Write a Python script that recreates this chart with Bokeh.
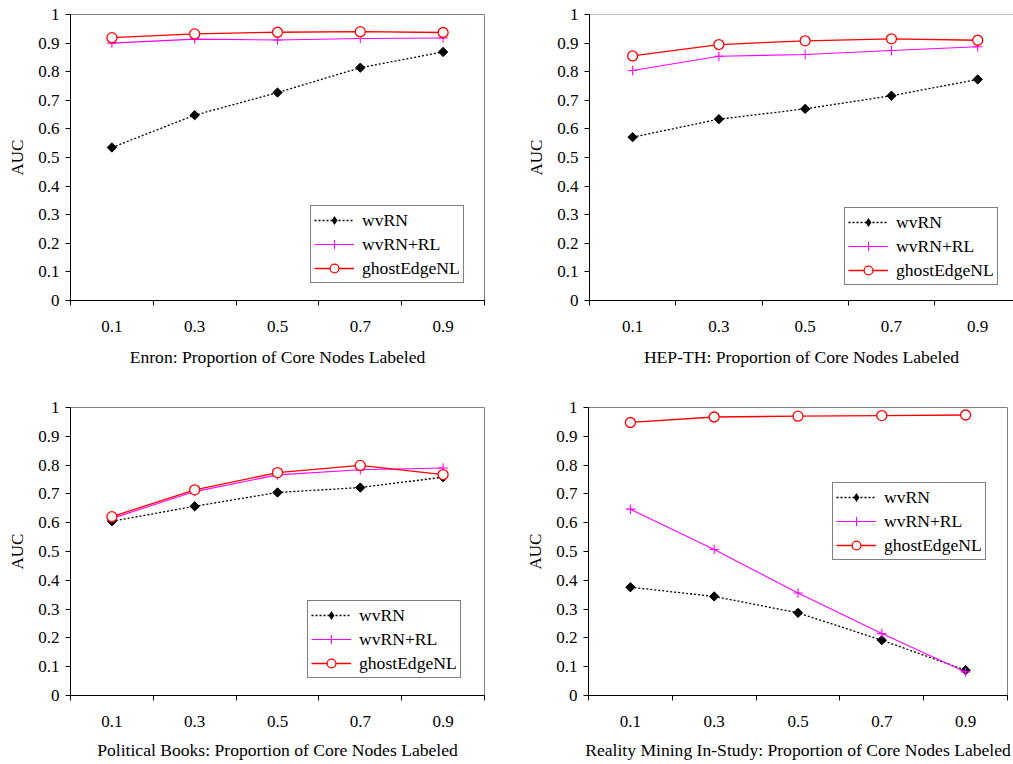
import math
from bokeh.plotting import figure
from bokeh.models import FixedTicker, Legend, LegendItem, Range1d, Span
from bokeh.layouts import column, row
from bokeh.embed import file_html
from bokeh.resources import INLINE

# ---------------- data ----------------
proportions = [0.1, 0.3, 0.5, 0.7, 0.9]
x_tick_labels = ["0.1", "0.3", "0.5", "0.7", "0.9"]
x_boundaries = [0.0, 0.2, 0.4, 0.6, 0.8, 1.0]
y_ticks = [0.0, 0.1, 0.2, 0.3, 0.4, 0.5, 0.6, 0.7, 0.8, 0.9, 1.0]
y_tick_labels = ["0", "0.1", "0.2", "0.3", "0.4", "0.5", "0.6", "0.7", "0.8", "0.9", "1"]
series_names = ["wvRN", "wvRN+RL", "ghostEdgeNL"]

enron_wvrn = [0.535, 0.648, 0.727, 0.814, 0.869]
enron_wvrn_rl = [0.900, 0.914, 0.911, 0.916, 0.918]
enron_ghost = [0.919, 0.932, 0.938, 0.940, 0.937]

hepth_wvrn = [0.571, 0.634, 0.670, 0.716, 0.773]
hepth_wvrn_rl = [0.804, 0.854, 0.860, 0.874, 0.887]
hepth_ghost = [0.855, 0.895, 0.908, 0.915, 0.910]

polbooks_wvrn = [0.605, 0.657, 0.705, 0.722, 0.758]
polbooks_wvrn_rl = [0.615, 0.708, 0.766, 0.784, 0.790]
polbooks_ghost = [0.621, 0.714, 0.774, 0.799, 0.767]

reality_wvrn = [0.376, 0.344, 0.287, 0.192, 0.088]
reality_wvrn_rl = [0.647, 0.507, 0.356, 0.215, 0.082]
reality_ghost = [0.948, 0.967, 0.970, 0.972, 0.974]

titles = [
    "Enron: Proportion of Core Nodes Labeled",
    "HEP-TH: Proportion of Core Nodes Labeled",
    "Political Books: Proportion of Core Nodes Labeled",
    "Reality Mining In-Study: Proportion of Core Nodes Labeled",
]

FONT = "Liberation Serif"


def make_panel(title, wvrn, wvrn_rl, ghost, width, height, mb_left, mb_right,
               mb_top, mb_bottom, x_end, legend_loc, full_outline=True,
               title_standoff=12):
    p = figure(width=width, height=height, output_backend="svg",
               toolbar_location=None, x_range=Range1d(0, x_end),
               y_range=Range1d(0, 1), min_border_left=mb_left,
               min_border_right=mb_right, min_border_top=mb_top,
               min_border_bottom=mb_bottom)
    p.grid.visible = False
    p.background_fill_color = "white"
    p.border_fill_color = "white"
    if full_outline:
        p.outline_line_color = "#808080"
        p.outline_line_width = 1
    else:
        p.outline_line_color = None
        p.add_layout(Span(location=1, dimension="width",
                          line_color="#808080", line_width=1))

    # x axis
    xa = p.xaxis[0]
    xa.ticker = FixedTicker(ticks=proportions, minor_ticks=x_boundaries)
    xa.major_label_overrides = {t: l for t, l in zip(proportions, x_tick_labels)}
    xa.major_tick_out = 0
    xa.major_tick_in = 0
    xa.minor_tick_out = 5
    xa.minor_tick_in = 0
    xa.minor_tick_line_color = "black"
    xa.axis_line_color = "black"
    xa.major_label_text_font = FONT
    xa.major_label_text_font_size = "17px"
    xa.major_label_text_color = "black"
    xa.major_label_standoff = 15
    xa.axis_label = title
    xa.axis_label_text_font = FONT
    xa.axis_label_text_font_size = "17.6px"
    xa.axis_label_text_font_style = "normal"
    xa.axis_label_text_color = "black"
    xa.axis_label_standoff = title_standoff

    # y axis
    ya = p.yaxis[0]
    ya.ticker = FixedTicker(ticks=y_ticks, minor_ticks=[])
    ya.major_label_overrides = {t: l for t, l in zip(y_ticks, y_tick_labels)}
    ya.major_tick_out = 5
    ya.major_tick_in = 0
    ya.major_tick_line_color = "black"
    ya.axis_line_color = "black"
    ya.major_label_text_font = FONT
    ya.major_label_text_font_size = "17px"
    ya.major_label_text_color = "black"
    ya.major_label_standoff = 6
    ya.axis_label = "AUC"
    ya.axis_label_text_font = FONT
    ya.axis_label_text_font_size = "17px"
    ya.axis_label_text_font_style = "normal"
    ya.axis_label_text_color = "black"
    ya.axis_label_standoff = 8

    # series
    l1 = p.line(proportions, wvrn, line_color="black", line_width=1.3,
                line_dash="2 2")
    m1 = p.scatter(proportions, wvrn, marker="square", angle=math.pi / 4,
                   size=6.6, fill_color="black", line_color="black")
    # legend swatch for wvRN (size-0 marks: only its legend diamond shows)
    k1 = p.scatter(proportions, wvrn, marker="diamond", size=0,
                   fill_color="black", line_color=None)
    l2 = p.line(proportions, wvrn_rl, line_color="#FF00FF", line_width=1.1)
    m2 = p.scatter(proportions, wvrn_rl, marker="cross", size=9.5,
                   line_color="#FF00FF", line_width=1.1)
    l3 = p.line(proportions, ghost, line_color="#FF0000", line_width=1.3)
    m3 = p.scatter(proportions, ghost, marker="circle", size=10,
                   fill_color="white", line_color="#FF0000", line_width=1.3)

    legend = Legend(items=[
        LegendItem(label=series_names[0], renderers=[l1, k1]),
        LegendItem(label=series_names[1], renderers=[l2, m2]),
        LegendItem(label=series_names[2], renderers=[l3, m3]),
    ], location=legend_loc)
    legend.border_line_color = "black"
    legend.border_line_width = 1
    legend.background_fill_color = "white"
    legend.background_fill_alpha = 1
    legend.label_text_font = FONT
    legend.label_text_font_size = "17.6px"
    legend.label_text_color = "black"
    legend.glyph_width = 40
    legend.glyph_height = 22
    legend.label_height = 22
    legend.label_standoff = 8
    legend.spacing = 2
    legend.padding = 3
    legend.margin = 0
    p.add_layout(legend, "center")
    return p


p1 = make_panel(titles[0], enron_wvrn, enron_wvrn_rl, enron_ghost,
                width=505, height=390, mb_left=70, mb_right=21, mb_top=14,
                mb_bottom=90, x_end=1.0, legend_loc=(240, 17),
                title_standoff=12)
p2 = make_panel(titles[1], hepth_wvrn, hepth_wvrn_rl, hepth_ghost,
                width=508, height=390, mb_left=84, mb_right=0, mb_top=14,
                mb_bottom=90, x_end=0.983, legend_loc=(255, 15),
                full_outline=False, title_standoff=12)
p3 = make_panel(titles[2], polbooks_wvrn, polbooks_wvrn_rl, polbooks_ghost,
                width=505, height=374, mb_left=70, mb_right=21, mb_top=17,
                mb_bottom=69, x_end=1.0, legend_loc=(237, 17),
                title_standoff=10)
p4 = make_panel(titles[3], reality_wvrn, reality_wvrn_rl, reality_ghost,
                width=508, height=374, mb_left=83, mb_right=6, mb_top=16,
                mb_bottom=68, x_end=1.0, legend_loc=(244, 135),
                title_standoff=10)

layout = column(row(p1, p2, spacing=0), row(p3, p4, spacing=0), spacing=0)

open("out.html", "w").write(file_html(layout, INLINE))
